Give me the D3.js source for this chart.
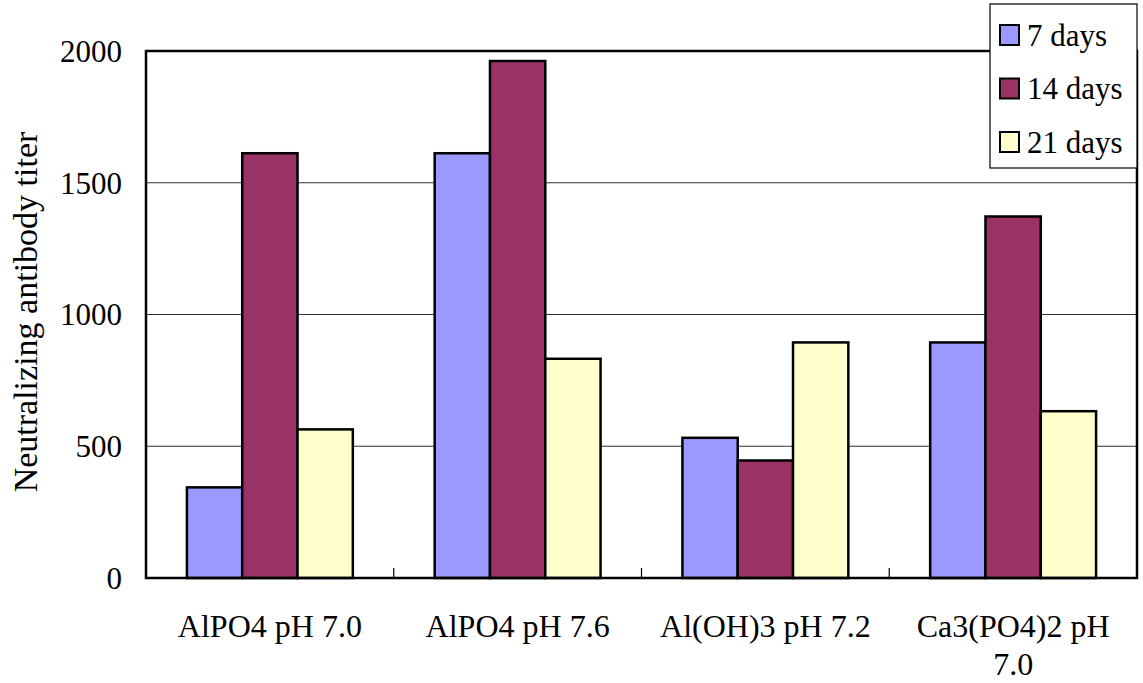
<!DOCTYPE html>
<html>
<head>
<meta charset="utf-8">
<script src="https://cdn.jsdelivr.net/npm/d3@7/dist/d3.min.js"></script>
<style>
  html, body { margin: 0; padding: 0; background: #fff; }
  svg { display: block; }
</style>
</head>
<body>
<svg id="chart" width="1143" height="683"></svg>
<script>
// Neutralizing antibody titer by adjuvant formulation and time point
const categories = ["AlPO4 pH 7.0", "AlPO4 pH 7.6", "Al(OH)3 pH 7.2", "Ca3(PO4)2 pH 7.0"];
const seriesNames = ["7 days", "14 days", "21 days"];
const days7  = [344, 1612, 532, 894];
const days14 = [1612, 1962, 446, 1372];
const days21 = [564, 832, 894, 633];
const yTicks = [0, 500, 1000, 1500, 2000];
const colors = ["#9999FF", "#993366", "#FFFFCC"];

const seriesValues = [days7, days14, days21];
const FONT = "'Liberation Serif', 'Times New Roman', Times, 'DejaVu Serif', serif";

const svg = d3.select("#chart")
  .attr("font-family", FONT);

const plot = { left: 146, right: 1137, top: 51, bottom: 578 };

const x0 = d3.scaleBand().domain(categories).range([plot.left, plot.right]).padding(0);
const x1 = d3.scaleBand().domain(seriesNames).range([0, x0.bandwidth()])
  .paddingInner(0).paddingOuter(0.74);
const y = d3.scaleLinear().domain([0, 2000]).range([plot.bottom, plot.top]);

// horizontal gridlines
svg.append("g").selectAll("line")
  .data(yTicks.filter(t => t > 0 && t < 2000))
  .join("line")
  .attr("x1", plot.left).attr("x2", plot.right)
  .attr("y1", d => y(d)).attr("y2", d => y(d))
  .attr("stroke", "#333").attr("stroke-width", 1.2);

// bars
const groups = svg.append("g").selectAll("g")
  .data(categories)
  .join("g")
  .attr("transform", d => `translate(${x0(d)},0)`);

groups.selectAll("rect")
  .data((c, ci) => seriesNames.map((s, si) => ({ s, si, v: seriesValues[si][ci] })))
  .join("rect")
  .attr("x", d => x1(d.s))
  .attr("width", x1.bandwidth())
  .attr("y", d => y(d.v))
  .attr("height", d => y(0) - y(d.v))
  .attr("fill", d => colors[d.si])
  .attr("stroke", "#000")
  .attr("stroke-width", 2.5);

// plot frame
svg.append("rect")
  .attr("x", plot.left).attr("y", plot.top)
  .attr("width", plot.right - plot.left).attr("height", plot.bottom - plot.top)
  .attr("fill", "none").attr("stroke", "#000").attr("stroke-width", 2.5);

// category boundary ticks (inside, pointing up)
svg.append("g").selectAll("line")
  .data(categories.slice(1))
  .join("line")
  .attr("x1", d => x0(d)).attr("x2", d => x0(d))
  .attr("y1", plot.bottom).attr("y2", plot.bottom - 10)
  .attr("stroke", "#000").attr("stroke-width", 1.2);

// y tick labels
svg.append("g").selectAll("text")
  .data(yTicks)
  .join("text")
  .attr("x", 122)
  .attr("y", d => y(d))
  .attr("dy", "0.35em")
  .attr("text-anchor", "end")
  .attr("font-size", 31)
  .text(d => d);

// category labels, wrapped to the band width
const catText = svg.append("g").selectAll("text")
  .data(categories)
  .join("text")
  .attr("x", d => x0(d) + x0.bandwidth() / 2)
  .attr("y", 637)
  .attr("text-anchor", "middle")
  .attr("font-size", 32);

catText.each(function (d) {
  const t = d3.select(this);
  const words = d.split(" ");
  const maxW = x0.bandwidth() - 22;
  let line = [];
  let tspan = t.append("tspan").attr("x", t.attr("x")).attr("dy", 0);
  words.forEach(w => {
    line.push(w);
    tspan.text(line.join(" "));
    if (tspan.node().getComputedTextLength() > maxW && line.length > 1) {
      line.pop();
      tspan.text(line.join(" "));
      line = [w];
      tspan = t.append("tspan").attr("x", t.attr("x")).attr("dy", 38).text(w);
    }
  });
});

// y axis title
svg.append("text")
  .attr("transform", "translate(37,312) rotate(-90)")
  .attr("text-anchor", "middle")
  .attr("font-size", 34)
  .text("Neutralizing antibody titer");

// legend
const legend = svg.append("g");
legend.append("rect")
  .attr("x", 990).attr("y", 4)
  .attr("width", 147).attr("height", 164)
  .attr("fill", "#fff").attr("stroke", "#000").attr("stroke-width", 1.2);

const items = legend.selectAll("g.item")
  .data(seriesNames)
  .join("g")
  .attr("class", "item")
  .attr("transform", (d, i) => `translate(0,${35 + i * 53.5})`);

items.append("rect")
  .attr("x", 1000).attr("y", -10)
  .attr("width", 19).attr("height", 20)
  .attr("fill", (d, i) => colors[i])
  .attr("stroke", "#000").attr("stroke-width", 2);

items.append("text")
  .attr("x", 1027).attr("y", 0)
  .attr("dy", "0.35em")
  .attr("font-size", 31)
  .text(d => d);
</script>
</body>
</html>
